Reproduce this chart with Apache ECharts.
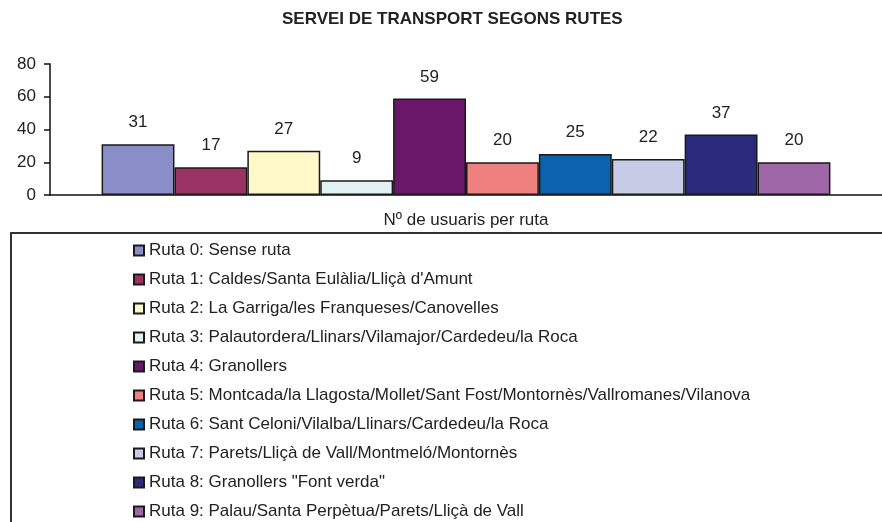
<!DOCTYPE html>
<html>
<head>
<meta charset="utf-8">
<script src="https://cdn.jsdelivr.net/npm/echarts@6/dist/echarts.min.js"></script>
<style>
  html, body { margin: 0; padding: 0; background: #fff; }
  #chart { width: 882px; height: 522px; }
</style>
</head>
<body>
<div id="chart"></div>
<script>
// dades llegides del gràfic
var rutes = [
	'Ruta 0: Sense ruta',
	"Ruta 1: Caldes/Santa Eulàlia/Lliçà d'Amunt",
	'Ruta 2: La Garriga/les Franqueses/Canovelles',
	'Ruta 3: Palautordera/Llinars/Vilamajor/Cardedeu/la Roca',
	'Ruta 4: Granollers',
	'Ruta 5: Montcada/la Llagosta/Mollet/Sant Fost/Montornès/Vallromanes/Vilanova',
	'Ruta 6: Sant Celoni/Vilalba/Llinars/Cardedeu/la Roca',
	'Ruta 7: Parets/Lliçà de Vall/Montmeló/Montornès',
	'Ruta 8: Granollers "Font verda"',
	'Ruta 9: Palau/Santa Perpètua/Parets/Lliçà de Vall'
];
var usuaris = [31, 17, 27, 9, 59, 20, 25, 22, 37, 20];
var colors = ['#8b8dc9', '#9b3264', '#fff8c8', '#e2f2f2', '#6a1769',
	'#ee8080', '#0b63ae', '#c7cbe5', '#2b2a7d', '#a067a8'];
var categories = [''];
var yTicks = [0, 20, 40, 60, 80];

var font = "'Liberation Sans', Arial, sans-serif";
var myChart = echarts.init(document.getElementById('chart'));

var series = [];
for (var i = 0; i < rutes.length; i++) {
	series.push({
		name : rutes[i],
		type : 'bar',
		data : [usuaris[i]],
		barGap : '0%',
		barCategoryGap : '12.4%',
		itemStyle : {
			color : colors[i],
			borderColor : '#1a1a1a',
			borderWidth : 1.5
		},
		label : {
			show : true,
			position : 'top',
			distance : 13,
			color : '#222',
			fontFamily : font,
			fontSize : 17
		}
	});
}

var option = {
	animation : false,
	color : colors,
	title : {
		text : 'SERVEI DE TRANSPORT SEGONS RUTES',
		left : 277,
		top : 6,
		textStyle : {
			fontFamily : font,
			fontSize : 17,
			fontWeight : 'bold',
			color : '#222'
		}
	},
	graphic : [ {
		type : 'rect',
		shape : { x : 11, y : 233, width : 900, height : 400 },
		style : { fill : 'none', stroke : '#333', lineWidth : 2 },
		z : -1
	} ],
	legend : {
		orient : 'vertical',
		left : 128,
		top : 237,
		height : 290,
		itemGap : 12,
		itemWidth : 10,
		itemHeight : 10,
		icon : 'rect',
		selectedMode : false,
		textStyle : {
			fontFamily : font,
			fontSize : 17,
			lineHeight : 17,
			color : '#222'
		},
		data : rutes
	},
	grid : {
		left : 50,
		right : 0,
		top : 64,
		bottom : 327,
		containLabel : false
	},
	xAxis : [ {
		type : 'category',
		data : categories,
		name : 'Nº de usuaris per ruta',
		nameLocation : 'middle',
		nameGap : 17,
		nameTextStyle : {
			fontFamily : font,
			fontSize : 17,
			color : '#222'
		},
		axisLine : { lineStyle : { color : '#111', width : 1.5 } },
		axisTick : { show : false },
		axisLabel : { show : false }
	} ],
	yAxis : [ {
		type : 'value',
		min : yTicks[0],
		max : yTicks[yTicks.length - 1],
		interval : 20,
		axisLine : { show : true, lineStyle : { color : '#111', width : 1.5 } },
		axisTick : { show : true, length : 6, lineStyle : { color : '#111', width : 1.5 } },
		splitLine : { show : false },
		axisLabel : {
			fontFamily : font,
			fontSize : 17,
			color : '#222',
			margin : 14
		}
	} ],
	series : series
};
myChart.setOption(option);
</script>
</body>
</html>
